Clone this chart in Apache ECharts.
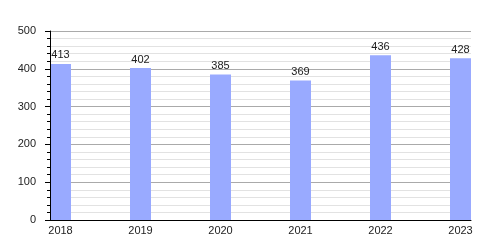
<!DOCTYPE html>
<html><head><meta charset="utf-8">
<script src="https://cdn.jsdelivr.net/npm/echarts@6/dist/echarts.min.js"></script>
<style>html,body{margin:0;padding:0;background:#fff}#c{width:500px;height:250px}</style>
</head><body><div id="c"></div>
<script>
const years = ['2018','2019','2020','2021','2022','2023'];
const values = [413, 402, 385, 369, 436, 428];
const yTicks = [0, 100, 200, 300, 400, 500];

const chart = echarts.init(document.getElementById('c'), null, {renderer:'canvas'});
const font = 'Liberation Sans';
chart.setOption({
  animation:false,
  grid:{left:50, right:29, top:31, bottom:30, containLabel:false},
  xAxis:{
    type:'value', min:-10.5/80, max:5+10.5/80, z:5,
    axisLine:{show:true, onZero:false, lineStyle:{color:'#000', width:1}},
    axisTick:{show:false},
    splitLine:{show:false},
    axisLabel:{customValues:[0,1,2,3,4,5], formatter:v=>years[Math.round(v)], color:'#222', fontFamily:font, fontSize:11, margin:5, showMinLabel:true, showMaxLabel:true}
  },
  yAxis:[{
    type:'value', min:0, max:500, interval:100,
    axisLine:{show:false, onZero:false},
    axisTick:{show:false},
    splitLine:{show:true, lineStyle:{color:'#aaa', width:1}},
    minorTick:{show:false},
    minorSplitLine:{show:true, lineStyle:{color:'#e2e2e2', width:1}},
    axisLabel:{formatter:v=>yTicks.includes(v)?String(v):'', color:'#222', fontFamily:font, fontSize:11, margin:14}
  },{
    type:'value', min:0, max:500, interval:100, position:'left', z:5,
    axisLine:{show:true, onZero:false, lineStyle:{color:'#000', width:1}},
    axisTick:{show:true, length:5, lineStyle:{color:'#000'}},
    minorTick:{show:true, splitNumber:5, length:3, lineStyle:{color:'#000'}},
    splitLine:{show:false},
    axisLabel:{show:false}
  }],
  series:[{
    type:'bar', barWidth:21,
    data: values.map((v,i)=>[i,v]),
    itemStyle:{color:'#99aaff'},
    label:{show:true, position:'top', distance:3, color:'#222', fontFamily:font, fontSize:11, formatter:p=>String(p.value[1])}
  }]
});
</script></body></html>
